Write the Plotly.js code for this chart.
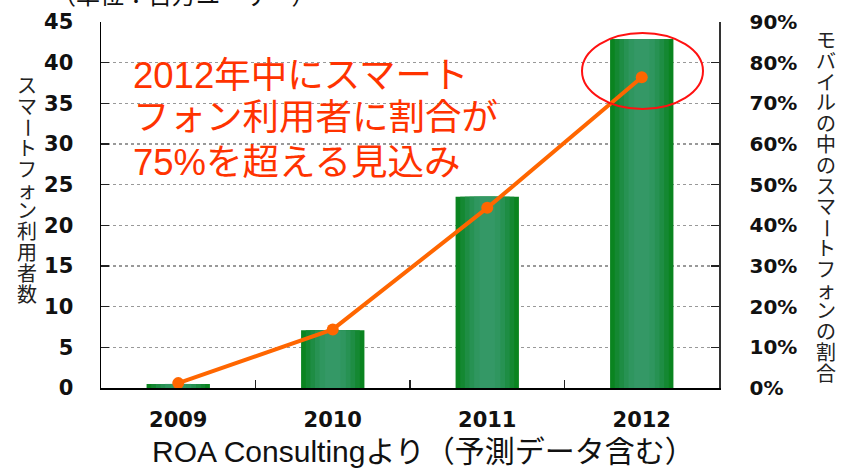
<!DOCTYPE html>
<html>
<head>
<meta charset="utf-8">
<script src="https://cdn.plot.ly/plotly-3.0.1.min.js"></script>
<style>html,body{margin:0;padding:0;background:#fff;}#chart{width:843px;height:469px;}</style>
</head>
<body>
<div id="chart"></div>
<script>
// ---- data ----
var years = ['2009', '2010', '2011', '2012'];
var users = [0.5, 7.1, 23.5, 42.9];          // スマートフォン利用者数（百万ユーザー）
var share = [1.2, 14.4, 44.3, 76.4];         // モバイルの中のスマートフォンの割合（%）
var leftTitle = 'スマートフォン利用者数';
var rightTitle = 'モバイルの中のスマートフォンの割合';
var unitText = '（単位：百万ユーザー）';
var sourceText = 'ROA Consultingより（予測データ含む）';
var noteLines = ['2012年中にスマート', 'フォン利用者に割合が', '75%を超える見込み'];

// ---- layout helpers (pixel -> paper) ----
var L = 101, R = 719, T = 22, B = 388;
function px(x) { return (x - L) / (R - L); }
function py(y) { return (B - y) / (B - T); }

var CJK = 'Liberation Sans, Noto Sans CJK JP, sans-serif';
var NUM = 'DejaVu Sans, Liberation Sans, sans-serif';

// gradient bars: stacked overlays of narrowing widths
var gradSteps = [
  {w: 0.41, c: '#0a8420'},
  {w: 0.35, c: '#148832'},
  {w: 0.29, c: '#1e8d44'},
  {w: 0.23, c: '#279253'},
  {w: 0.17, c: '#2f965f'},
  {w: 0.10, c: '#349866'}
];
var traces = gradSteps.map(function (s) {
  return {
    type: 'bar', x: years, y: users, width: s.w,
    marker: {color: s.c, line: {width: 0}},
    hoverinfo: 'skip', showlegend: false
  };
});
traces.push({
  type: 'scatter', mode: 'lines+markers', x: years, y: share, yaxis: 'y2',
  line: {color: '#ff6600', width: 4},
  marker: {color: '#ff6600', size: 12},
  showlegend: false
});

var annotations = [];
function charColumn(str, xc, y0, step, size) {
  var chars = Array.from(str);
  chars.forEach(function (ch, i) {
    annotations.push({
      xref: 'paper', yref: 'paper', x: px(xc), y: py(y0 + i * step),
      xanchor: 'center', yanchor: 'middle', showarrow: false,
      text: ch, textangle: (ch === 'ー') ? 90 : 0,
      font: {family: CJK, size: size, color: '#222'}
    });
  });
}
charColumn(leftTitle, 27, 86, 20.9, 20);
charColumn(rightTitle, 826, 41, 20.8, 20);

noteLines.forEach(function (t, i) {
  annotations.push({
    xref: 'paper', yref: 'paper', x: px(131), y: py([75, 118, 162][i]),
    xanchor: 'left', yanchor: 'middle', showarrow: false, text: t,
    font: {family: CJK, size: 36.5, color: '#ff3300'}
  });
});
annotations.push({
  xref: 'paper', yref: 'paper', x: px(150), y: py(451),
  xanchor: 'left', yanchor: 'middle', showarrow: false, text: sourceText,
  font: {family: CJK, size: 30, color: '#111'}
});
annotations.push({
  xref: 'paper', yref: 'paper', x: px(50), y: py(-5),
  xanchor: 'left', yanchor: 'middle', showarrow: false, text: unitText,
  font: {family: CJK, size: 24, color: '#111'}
});

var layout = {
  width: 843, height: 469,
  margin: {l: L, r: 843 - R, t: T, b: 469 - B, pad: 0},
  paper_bgcolor: '#fff', plot_bgcolor: '#fff',
  barmode: 'overlay',
  showlegend: false,
  xaxis: {
    type: 'category', range: [-0.5, 3.5],
    showline: true, linecolor: '#000', linewidth: 1.5,
    ticks: 'inside', tickson: 'boundaries', ticklen: 8, tickcolor: '#222', tickwidth: 1.5,
    showgrid: false, zeroline: false,
    tickfont: {family: NUM, size: 21, color: '#111', weight: 'bold'},
    ticklabelstandoff: 12
  },
  yaxis: {
    range: [0, 45], dtick: 5, tick0: 0,
    showline: true, linecolor: '#000', linewidth: 1.5,
    ticks: 'inside', ticklen: 8, tickcolor: '#222', tickwidth: 1.5,
    showgrid: true, gridcolor: '#999', gridwidth: 1.5, griddash: 'dot',
    zeroline: false,
    tickfont: {family: NUM, size: 21, color: '#111', weight: 'bold'},
    ticklabelstandoff: 22
  },
  yaxis2: {
    overlaying: 'y', side: 'right',
    range: [0, 90], dtick: 10, tick0: 0, ticksuffix: '%',
    showline: true, linecolor: '#333', linewidth: 1.5,
    ticks: 'inside', ticklen: 8, tickcolor: '#222', tickwidth: 1.5,
    showgrid: false, zeroline: false,
    tickfont: {family: NUM, size: 20, color: '#111', weight: 'bold'},
    ticklabelstandoff: 25
  },
  shapes: [{
    type: 'circle', xref: 'paper', yref: 'paper',
    x0: px(582), x1: px(703), y0: py(109), y1: py(33),
    line: {color: '#ff1111', width: 2}
  }],
  annotations: annotations
};

Plotly.newPlot('chart', traces, layout, {displayModeBar: false, staticPlot: true});
</script>
</body>
</html>
